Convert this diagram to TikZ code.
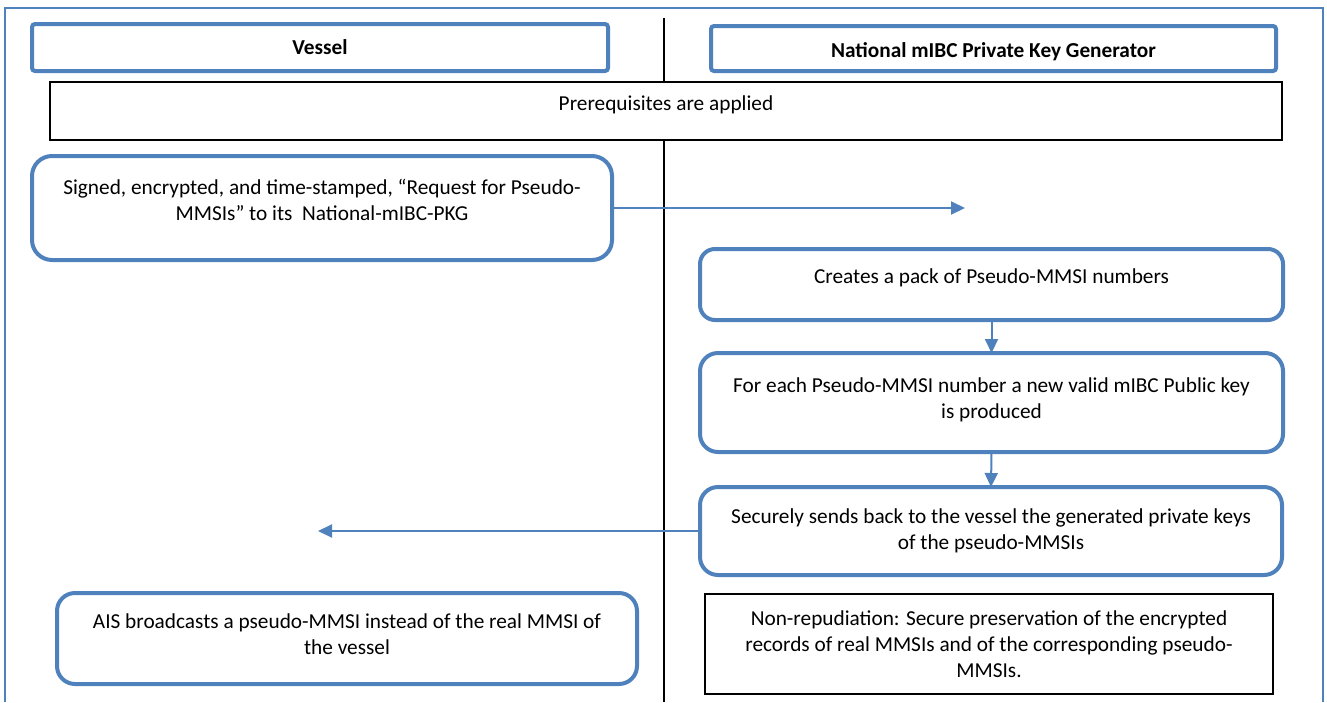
\documentclass[tikz,border=0pt]{standalone}
\usepackage{fontspec}
\setmainfont{Carlito}
\usetikzlibrary{arrows.meta}
\definecolor{wblue}{HTML}{4F81BD}
\newcommand{\mydp}[1]{\rule[-#1]{0pt}{0pt}}
\newcommand{\myht}[1]{\rule{0pt}{#1}}
\begin{document}
\begin{tikzpicture}[x=1pt,y=-1pt,
  every node/.style={font=\fontsize{21.3}{26}\selectfont, align=center, inner sep=0pt, outer sep=0pt},
  hdr/.style={draw=wblue, line width=4pt, rounded corners=3pt, fill=white},
  rbox/.style={draw=wblue, line width=4pt, rounded corners=18pt, fill=white},
  pbox/.style={draw=black, line width=1.2pt, fill=white},
  flow/.style={draw=wblue, line width=2pt, -{Triangle[length=14pt,width=13pt]}},
  frame/.style={draw=wblue, line width=1.5pt},
  divider/.style={draw=black, line width=1.1pt}
]
\useasboundingbox (0,0) rectangle (1327,702);
% outer frame and lane divider
\draw[frame] (5,702) -- (5,8) -- (1323,8) -- (1323,702);
\coordinate (dtop) at (664,18);
\coordinate (dbot) at (664,702);
\draw[divider] (dtop) -- (dbot);
% headers
\node[hdr, minimum width=576pt, minimum height=47pt] (vessel) at (320,47.5) {\textbf{Vessel}};
\node[hdr, minimum width=565pt, minimum height=45pt] (pkg) at (993.5,48.5) {\myht{22pt}\textbf{National mIBC Private Key Generator}};
% prerequisites
\node[pbox, minimum width=1232pt, minimum height=58pt] (prereq) at (666,111) {Prerequisites are applied\mydp{15pt}};
% vessel request
\node[rbox, rounded corners=20pt, minimum width=580pt, minimum height=104pt] (req) at (322,208)
  {Signed, encrypted, and time-stamped, “Request for Pseudo-\\MMSIs” to its~~National-mIBC-PKG\mydp{16pt}};
% PKG steps
\node[rbox, rounded corners=15pt, minimum width=583pt, minimum height=71pt] (creates) at (991.5,284.5)
  {Creates a pack of Pseudo-MMSI numbers\mydp{17pt}};
\node[rbox, minimum width=583pt, minimum height=99pt] (each) at (991.5,402.5)
  {For each Pseudo-MMSI number a new valid mIBC Public key\\is produced\mydp{9pt}};
\node[rbox, minimum width=582pt, minimum height=88pt] (secure) at (991,531)
  {Securely sends back to the vessel the generated private keys\\of the pseudo-MMSIs};
\node[rbox, minimum width=580pt, minimum height=91pt] (ais) at (347,638.5)
  {AIS broadcasts a pseudo-MMSI instead of the real MMSI of\\the vessel\mydp{9pt}};
\node[pbox, minimum width=568pt, minimum height=100pt] (nonrep) at (989,644)
  {Non-repudiation: Secure preservation of the encrypted\\records of real MMSIs and of the corresponding pseudo-\\MMSIs.};
% connectors
\coordinate (reqend) at (965,208);
\coordinate (backend) at (318,531);
\draw[flow] (req.east) -- (reqend);
\draw[flow] (creates.south) -- (each.north);
\draw[flow] (each.south) -- (secure.north);
\draw[flow] (secure.west) -- (backend);
\end{tikzpicture}
\end{document}
